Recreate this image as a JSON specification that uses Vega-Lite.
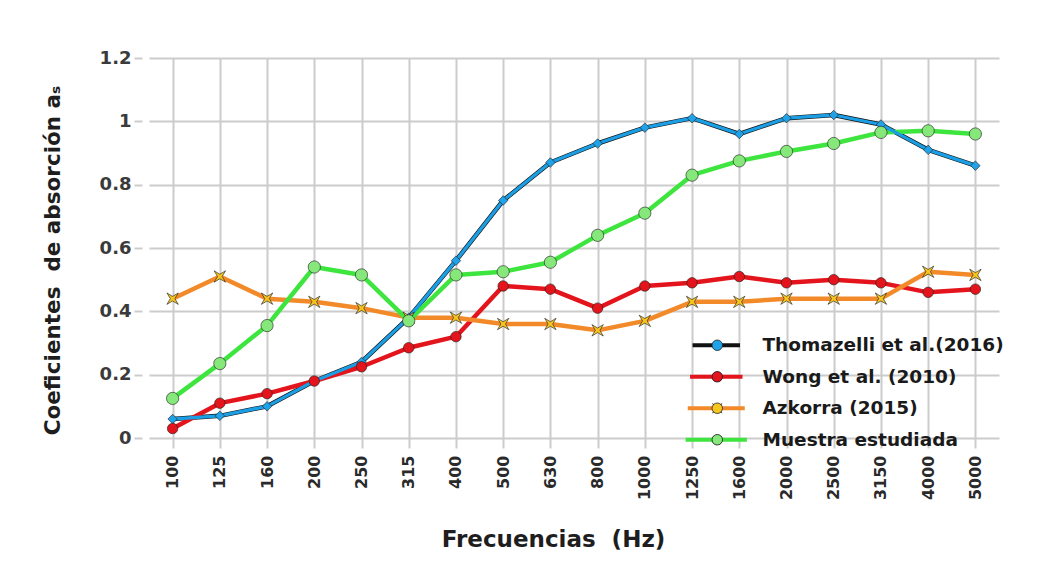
{
  "$schema": "https://vega.github.io/schema/vega-lite/v6.json",
  "autosize": {"type": "none"},
  "padding": {"left": 142, "top": 58, "right": 41, "bottom": 139},
  "width": 857,
  "height": 380,
  "background": "white",
  "config": {
    "view": {"stroke": null},
    "font": "DejaVu Sans"
  },
  "data": {
    "values": [
      {"f":"100","s":"Thomazelli et al.(2016)","m":"Thomazelli et al.(2016)","v":0.06},
      {"f":"125","s":"Thomazelli et al.(2016)","m":"Thomazelli et al.(2016)","v":0.07},
      {"f":"160","s":"Thomazelli et al.(2016)","m":"Thomazelli et al.(2016)","v":0.10},
      {"f":"200","s":"Thomazelli et al.(2016)","m":"Thomazelli et al.(2016)","v":0.18},
      {"f":"250","s":"Thomazelli et al.(2016)","m":"Thomazelli et al.(2016)","v":0.24},
      {"f":"315","s":"Thomazelli et al.(2016)","m":"Thomazelli et al.(2016)","v":0.38},
      {"f":"400","s":"Thomazelli et al.(2016)","m":"Thomazelli et al.(2016)","v":0.56},
      {"f":"500","s":"Thomazelli et al.(2016)","m":"Thomazelli et al.(2016)","v":0.75},
      {"f":"630","s":"Thomazelli et al.(2016)","m":"Thomazelli et al.(2016)","v":0.87},
      {"f":"800","s":"Thomazelli et al.(2016)","m":"Thomazelli et al.(2016)","v":0.93},
      {"f":"1000","s":"Thomazelli et al.(2016)","m":"Thomazelli et al.(2016)","v":0.98},
      {"f":"1250","s":"Thomazelli et al.(2016)","m":"Thomazelli et al.(2016)","v":1.01},
      {"f":"1600","s":"Thomazelli et al.(2016)","m":"Thomazelli et al.(2016)","v":0.96},
      {"f":"2000","s":"Thomazelli et al.(2016)","m":"Thomazelli et al.(2016)","v":1.01},
      {"f":"2500","s":"Thomazelli et al.(2016)","m":"Thomazelli et al.(2016)","v":1.02},
      {"f":"3150","s":"Thomazelli et al.(2016)","m":"Thomazelli et al.(2016)","v":0.99},
      {"f":"4000","s":"Thomazelli et al.(2016)","m":"Thomazelli et al.(2016)","v":0.91},
      {"f":"5000","s":"Thomazelli et al.(2016)","m":"Thomazelli et al.(2016)","v":0.86},
      {"f":"100","s":"Wong et al. (2010)","m":"Wong et al. (2010)","v":0.03},
      {"f":"125","s":"Wong et al. (2010)","m":"Wong et al. (2010)","v":0.11},
      {"f":"160","s":"Wong et al. (2010)","m":"Wong et al. (2010)","v":0.14},
      {"f":"200","s":"Wong et al. (2010)","m":"Wong et al. (2010)","v":0.18},
      {"f":"250","s":"Wong et al. (2010)","m":"Wong et al. (2010)","v":0.225},
      {"f":"315","s":"Wong et al. (2010)","m":"Wong et al. (2010)","v":0.285},
      {"f":"400","s":"Wong et al. (2010)","m":"Wong et al. (2010)","v":0.32},
      {"f":"500","s":"Wong et al. (2010)","m":"Wong et al. (2010)","v":0.48},
      {"f":"630","s":"Wong et al. (2010)","m":"Wong et al. (2010)","v":0.47},
      {"f":"800","s":"Wong et al. (2010)","m":"Wong et al. (2010)","v":0.41},
      {"f":"1000","s":"Wong et al. (2010)","m":"Wong et al. (2010)","v":0.48},
      {"f":"1250","s":"Wong et al. (2010)","m":"Wong et al. (2010)","v":0.49},
      {"f":"1600","s":"Wong et al. (2010)","m":"Wong et al. (2010)","v":0.51},
      {"f":"2000","s":"Wong et al. (2010)","m":"Wong et al. (2010)","v":0.49},
      {"f":"2500","s":"Wong et al. (2010)","m":"Wong et al. (2010)","v":0.50},
      {"f":"3150","s":"Wong et al. (2010)","m":"Wong et al. (2010)","v":0.49},
      {"f":"4000","s":"Wong et al. (2010)","m":"Wong et al. (2010)","v":0.46},
      {"f":"5000","s":"Wong et al. (2010)","m":"Wong et al. (2010)","v":0.47},
      {"f":"100","s":"Azkorra (2015)","m":"Azkorra (2015)","v":0.44},
      {"f":"125","s":"Azkorra (2015)","m":"Azkorra (2015)","v":0.51},
      {"f":"160","s":"Azkorra (2015)","m":"Azkorra (2015)","v":0.44},
      {"f":"200","s":"Azkorra (2015)","m":"Azkorra (2015)","v":0.43},
      {"f":"250","s":"Azkorra (2015)","m":"Azkorra (2015)","v":0.41},
      {"f":"315","s":"Azkorra (2015)","m":"Azkorra (2015)","v":0.38},
      {"f":"400","s":"Azkorra (2015)","m":"Azkorra (2015)","v":0.38},
      {"f":"500","s":"Azkorra (2015)","m":"Azkorra (2015)","v":0.36},
      {"f":"630","s":"Azkorra (2015)","m":"Azkorra (2015)","v":0.36},
      {"f":"800","s":"Azkorra (2015)","m":"Azkorra (2015)","v":0.34},
      {"f":"1000","s":"Azkorra (2015)","m":"Azkorra (2015)","v":0.37},
      {"f":"1250","s":"Azkorra (2015)","m":"Azkorra (2015)","v":0.43},
      {"f":"1600","s":"Azkorra (2015)","m":"Azkorra (2015)","v":0.43},
      {"f":"2000","s":"Azkorra (2015)","m":"Azkorra (2015)","v":0.44},
      {"f":"2500","s":"Azkorra (2015)","m":"Azkorra (2015)","v":0.44},
      {"f":"3150","s":"Azkorra (2015)","m":"Azkorra (2015)","v":0.44},
      {"f":"4000","s":"Azkorra (2015)","m":"Azkorra (2015)","v":0.525},
      {"f":"5000","s":"Azkorra (2015)","m":"Azkorra (2015)","v":0.515},
      {"f":"100","s":"Muestra estudiada","m":"Muestra estudiada","v":0.125},
      {"f":"125","s":"Muestra estudiada","m":"Muestra estudiada","v":0.235},
      {"f":"160","s":"Muestra estudiada","m":"Muestra estudiada","v":0.355},
      {"f":"200","s":"Muestra estudiada","m":"Muestra estudiada","v":0.54},
      {"f":"250","s":"Muestra estudiada","m":"Muestra estudiada","v":0.515},
      {"f":"315","s":"Muestra estudiada","m":"Muestra estudiada","v":0.37},
      {"f":"400","s":"Muestra estudiada","m":"Muestra estudiada","v":0.515},
      {"f":"500","s":"Muestra estudiada","m":"Muestra estudiada","v":0.525},
      {"f":"630","s":"Muestra estudiada","m":"Muestra estudiada","v":0.555},
      {"f":"800","s":"Muestra estudiada","m":"Muestra estudiada","v":0.64},
      {"f":"1000","s":"Muestra estudiada","m":"Muestra estudiada","v":0.71},
      {"f":"1250","s":"Muestra estudiada","m":"Muestra estudiada","v":0.83},
      {"f":"1600","s":"Muestra estudiada","m":"Muestra estudiada","v":0.875},
      {"f":"2000","s":"Muestra estudiada","m":"Muestra estudiada","v":0.905},
      {"f":"2500","s":"Muestra estudiada","m":"Muestra estudiada","v":0.93},
      {"f":"3150","s":"Muestra estudiada","m":"Muestra estudiada","v":0.965},
      {"f":"4000","s":"Muestra estudiada","m":"Muestra estudiada","v":0.97},
      {"f":"5000","s":"Muestra estudiada","m":"Muestra estudiada","v":0.96}
    ]
  },
  "encoding": {
    "x": {
      "field": "f", "type": "ordinal",
      "sort": ["100","125","160","200","250","315","400","500","630","800","1000","1250","1600","2000","2500","3150","4000","5000"],
      "scale": {"type": "point", "range": [7, 857]},
      "axis": {
        "title": "Frecuencias \u00a0(Hz)",
        "titleFont": "DejaVu Sans", "titleFontSize": 23, "titleFontWeight": "bold", "titleColor": "#1e1e1e",
        "titleX": 411, "titleY": 101, "titleBaseline": "middle", "titleAnchor": "start", "titleAlign": "center",
        "labelAngle": 270, "labelFont": "DejaVu Sans", "labelFontSize": 16, "labelFontWeight": "bold", "labelColor": "#2a2a2a",
        "labelPadding": 7, "tickSize": 10, "tickColor": "#cccccc", "tickWidth": 2,
        "grid": true, "gridColor": "#cccccc", "gridWidth": 2, "domain": false
      }
    },
    "y": {
      "field": "v", "type": "quantitative",
      "scale": {"domain": [0, 1.2], "nice": false, "zero": true},
      "axis": {
        "title": "Coeficientes \u00a0de absorción aₛ",
        "titleFont": "DejaVu Sans", "titleFontSize": 21.5, "titleFontWeight": "bold", "titleColor": "#1e1e1e",
        "titlePadding": 35, "titleY": 202, "titleAnchor": "start", "titleAlign": "center",
        "values": [0, 0.2, 0.4, 0.6, 0.8, 1, 1.2], "format": "~g",
        "labelFont": "DejaVu Sans", "labelFontSize": 18, "labelFontWeight": "bold", "labelColor": "#3a3a3a",
        "labelPadding": 3, "tickSize": 8, "tickColor": "#cccccc", "tickWidth": 2,
        "grid": true, "gridColor": "#cccccc", "gridWidth": 2, "domain": false
      }
    }
  },
  "layer": [
    {
      "mark": {"type": "line", "strokeWidth": 4.5, "strokeJoin": "round"},
      "encoding": {
        "stroke": {
          "field": "s", "type": "nominal",
          "scale": {
            "domain": ["Thomazelli et al.(2016)", "Wong et al. (2010)", "Azkorra (2015)", "Muestra estudiada"],
            "range": ["#111111", "#e3141b", "#f28a2a", "#3ee53e"]
          },
          "legend": {
            "title": null, "orient": "none", "legendX": 565, "legendY": 278, "padding": 0,
            "symbolType": "M-5,0H5", "symbolSize": 144, "symbolStrokeWidth": 4,
            "labelFont": "DejaVu Sans", "labelFontSize": 18.5, "labelFontWeight": "bold", "labelColor": "#1a1a1a",
            "labelOffset": 37, "rowPadding": 12.5, "labelLimit": 400
          }
        }
      }
    },
    {
      "transform": [{"filter": "datum.s === 'Thomazelli et al.(2016)'"}],
      "mark": {"type": "line", "strokeWidth": 3.3, "stroke": "#1b9ee3", "strokeJoin": "round"},
      "encoding": {}
    },
    {
      "mark": {"type": "point", "filled": true, "stroke": "#222222", "strokeWidth": 0.8, "strokeOpacity": 0.8, "opacity": 1},
      "encoding": {
        "fill": {
          "field": "m", "type": "nominal",
          "sort": ["Thomazelli et al.(2016)", "Wong et al. (2010)", "Azkorra (2015)", "Muestra estudiada"],
          "scale": {"range": ["#1fa2e8", "#e3141b", "#f7c51f", "#86e87a"]},
          "legend": {
            "title": null, "orient": "none", "legendX": 566, "legendY": 278, "padding": 0,
            "symbolSize": 110, "symbolStrokeColor": "#222222", "symbolStrokeWidth": 0.8, "symbolOpacity": 1,
            "labelFont": "DejaVu Sans", "labelFontSize": 18.5, "labelFontWeight": "bold", "labelOpacity": 0,
            "labelOffset": 37, "rowPadding": 12.5, "labelLimit": 400
          }
        },
        "shape": {
          "field": "m", "type": "nominal",
          "sort": ["Thomazelli et al.(2016)", "Wong et al. (2010)", "Azkorra (2015)", "Muestra estudiada"],
          "scale": {"range": ["diamond", "circle", "M-1,-1L0,-0.4L1,-1L0.4,0L1,1L0,0.4L-1,1L-0.4,0Z", "circle"]},
          "legend": {
            "title": null, "orient": "none", "legendX": 566, "legendY": 278, "padding": 0,
            "symbolSize": 110, "symbolStrokeColor": "#222222", "symbolStrokeWidth": 0.8, "symbolOpacity": 1,
            "labelFont": "DejaVu Sans", "labelFontSize": 18.5, "labelFontWeight": "bold", "labelOpacity": 0,
            "labelOffset": 37, "rowPadding": 12.5, "labelLimit": 400
          }
        },
        "size": {
          "field": "m", "type": "nominal",
          "scale": {"domain": ["Thomazelli et al.(2016)", "Wong et al. (2010)", "Azkorra (2015)", "Muestra estudiada"], "range": [90, 150, 170, 70]},
          "legend": null
        }
      }
    }
  ]
}
